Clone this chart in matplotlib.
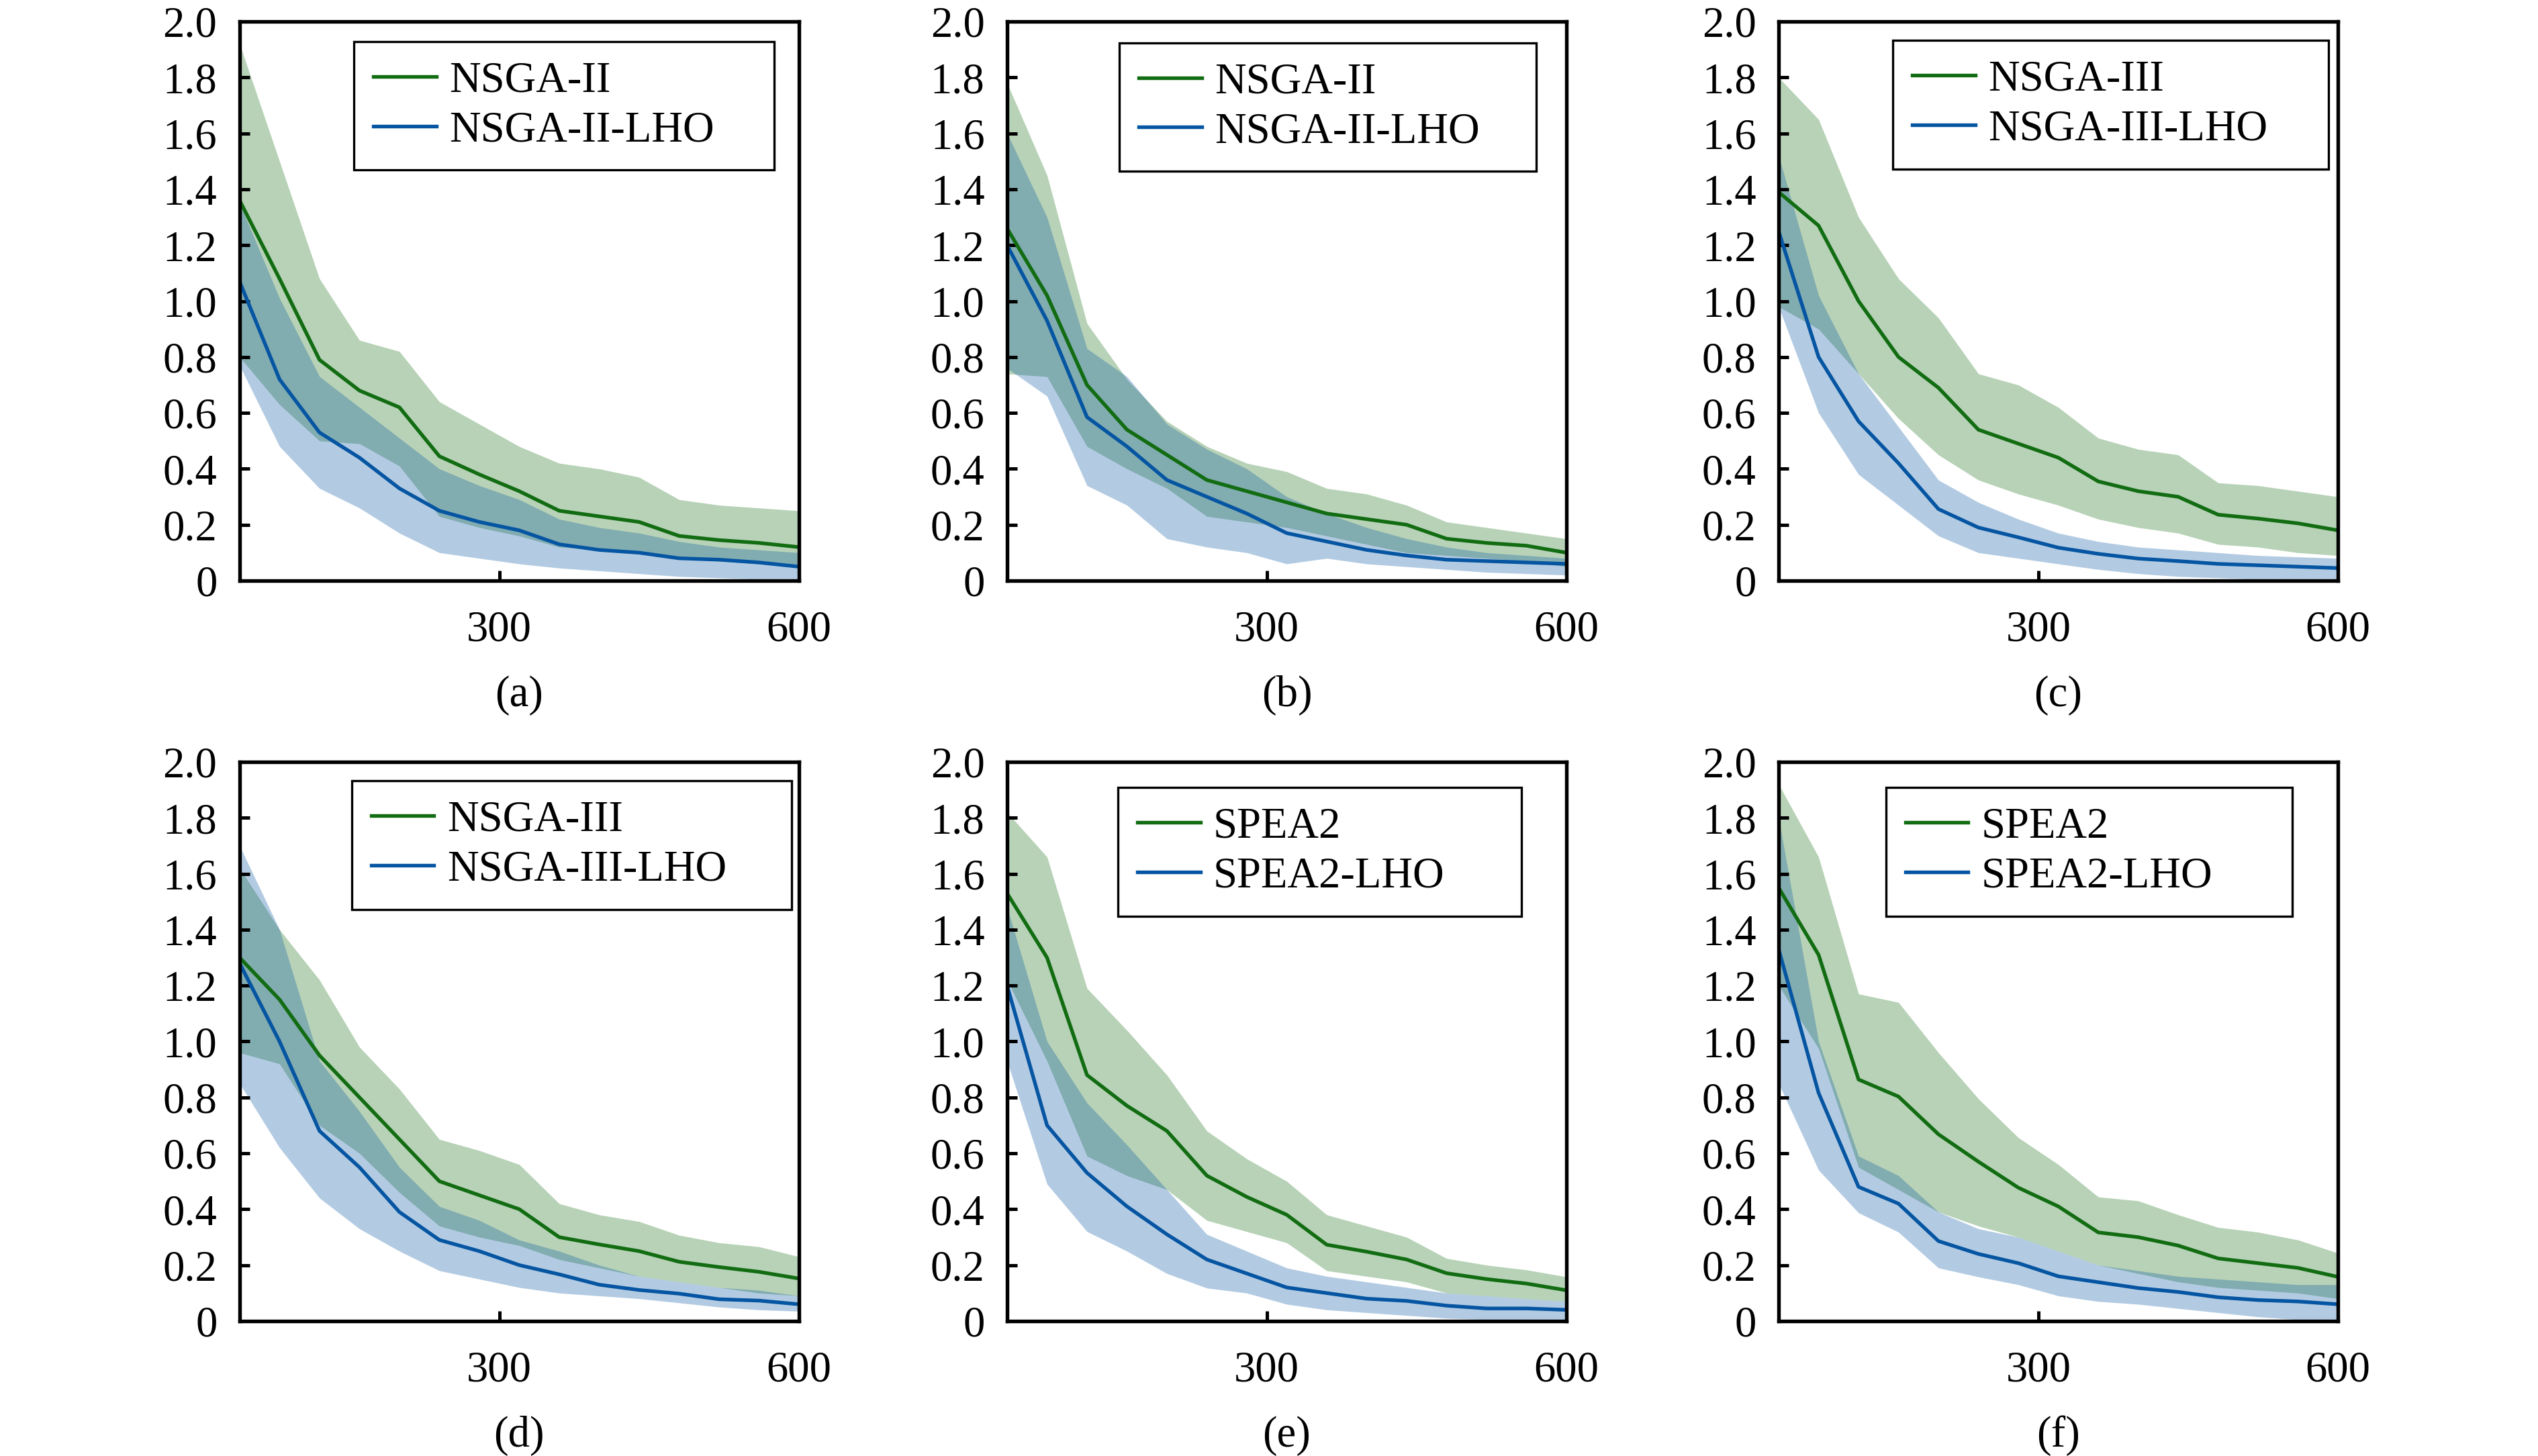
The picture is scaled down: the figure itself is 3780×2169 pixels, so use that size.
import numpy as np
import matplotlib
matplotlib.use('Agg')
import matplotlib.pyplot as plt

plt.rcParams['font.family'] = ['Liberation Serif', 'DejaVu Serif']
plt.rcParams['font.size'] = 15.5

# evaluations (x axis), shared by all panels
x = [40, 80, 120, 160, 200, 240, 280, 320, 360, 400, 440, 480, 520, 560, 600]

panel_tags = ['(a)', '(b)', '(c)', '(d)', '(e)', '(f)']
base_names = ['NSGA-II', 'NSGA-II', 'NSGA-III', 'NSGA-III', 'SPEA2', 'SPEA2']
lho_names = ['NSGA-II-LHO', 'NSGA-II-LHO', 'NSGA-III-LHO', 'NSGA-III-LHO', 'SPEA2-LHO', 'SPEA2-LHO']

# (a)
a_base = [1.36, 1.08, 0.79, 0.68, 0.62, 0.445, 0.38, 0.32, 0.25, 0.23, 0.21, 0.16, 0.145, 0.135, 0.12]
a_base_hi = [1.92, 1.50, 1.08, 0.86, 0.82, 0.64, 0.56, 0.48, 0.42, 0.40, 0.37, 0.29, 0.27, 0.26, 0.25]
a_base_lo = [0.80, 0.63, 0.50, 0.49, 0.41, 0.23, 0.19, 0.16, 0.12, 0.11, 0.10, 0.08, 0.07, 0.06, 0.05]
a_lho = [1.07, 0.72, 0.53, 0.44, 0.33, 0.25, 0.21, 0.18, 0.13, 0.11, 0.10, 0.08, 0.075, 0.065, 0.05]
a_lho_hi = [1.35, 1.01, 0.73, 0.62, 0.51, 0.40, 0.34, 0.29, 0.22, 0.19, 0.17, 0.14, 0.12, 0.11, 0.10]
a_lho_lo = [0.77, 0.48, 0.33, 0.26, 0.17, 0.10, 0.08, 0.06, 0.045, 0.035, 0.025, 0.015, 0.01, 0.005, 0.0]

# (b)
b_base = [1.26, 1.02, 0.70, 0.54, 0.45, 0.36, 0.32, 0.28, 0.24, 0.22, 0.20, 0.15, 0.135, 0.125, 0.10]
b_base_hi = [1.78, 1.45, 0.92, 0.72, 0.57, 0.48, 0.42, 0.39, 0.33, 0.31, 0.27, 0.21, 0.19, 0.17, 0.15]
b_base_lo = [0.74, 0.73, 0.48, 0.40, 0.33, 0.23, 0.21, 0.19, 0.16, 0.13, 0.10, 0.09, 0.08, 0.07, 0.05]
b_lho = [1.20, 0.93, 0.585, 0.48, 0.36, 0.30, 0.24, 0.17, 0.14, 0.11, 0.09, 0.075, 0.07, 0.065, 0.06]
b_lho_hi = [1.60, 1.30, 0.83, 0.73, 0.56, 0.47, 0.40, 0.30, 0.24, 0.19, 0.15, 0.12, 0.10, 0.09, 0.08]
b_lho_lo = [0.76, 0.66, 0.34, 0.27, 0.15, 0.12, 0.10, 0.06, 0.08, 0.06, 0.05, 0.04, 0.03, 0.025, 0.02]

# (c)
c_base = [1.39, 1.27, 1.00, 0.80, 0.69, 0.54, 0.49, 0.44, 0.355, 0.32, 0.30, 0.236, 0.222, 0.205, 0.18]
c_base_hi = [1.80, 1.65, 1.30, 1.08, 0.94, 0.74, 0.70, 0.62, 0.51, 0.47, 0.45, 0.35, 0.34, 0.32, 0.30]
c_base_lo = [0.98, 0.90, 0.74, 0.58, 0.45, 0.36, 0.31, 0.27, 0.22, 0.19, 0.17, 0.13, 0.12, 0.10, 0.09]
c_lho = [1.25, 0.80, 0.57, 0.42, 0.256, 0.19, 0.155, 0.118, 0.096, 0.079, 0.07, 0.06, 0.055, 0.05, 0.045]
c_lho_hi = [1.52, 1.02, 0.74, 0.55, 0.36, 0.28, 0.22, 0.17, 0.14, 0.12, 0.11, 0.10, 0.09, 0.085, 0.08]
c_lho_lo = [0.98, 0.60, 0.38, 0.27, 0.16, 0.10, 0.08, 0.06, 0.04, 0.025, 0.015, 0.01, 0.005, 0.0, 0.0]

# (d)
d_base = [1.30, 1.15, 0.95, 0.80, 0.65, 0.50, 0.45, 0.40, 0.30, 0.274, 0.25, 0.212, 0.193, 0.176, 0.152]
d_base_hi = [1.62, 1.40, 1.22, 0.98, 0.83, 0.65, 0.61, 0.56, 0.42, 0.38, 0.356, 0.307, 0.28, 0.266, 0.23]
d_base_lo = [0.96, 0.92, 0.70, 0.60, 0.46, 0.34, 0.30, 0.27, 0.22, 0.19, 0.16, 0.14, 0.12, 0.10, 0.09]
d_lho = [1.28, 1.00, 0.68, 0.55, 0.39, 0.29, 0.25, 0.20, 0.167, 0.13, 0.111, 0.098, 0.078, 0.073, 0.06]
d_lho_hi = [1.70, 1.40, 0.93, 0.75, 0.55, 0.41, 0.36, 0.29, 0.25, 0.20, 0.16, 0.14, 0.12, 0.11, 0.09]
d_lho_lo = [0.85, 0.62, 0.44, 0.33, 0.25, 0.18, 0.15, 0.12, 0.10, 0.09, 0.08, 0.065, 0.05, 0.04, 0.035]

# (e)
e_base = [1.53, 1.30, 0.88, 0.77, 0.68, 0.52, 0.444, 0.38, 0.273, 0.248, 0.22, 0.171, 0.15, 0.134, 0.11]
e_base_hi = [1.82, 1.66, 1.19, 1.04, 0.88, 0.68, 0.58, 0.50, 0.38, 0.34, 0.30, 0.224, 0.20, 0.183, 0.158]
e_base_lo = [1.22, 0.93, 0.59, 0.52, 0.47, 0.36, 0.32, 0.28, 0.18, 0.16, 0.14, 0.10, 0.09, 0.08, 0.07]
e_lho = [1.20, 0.70, 0.53, 0.41, 0.31, 0.22, 0.17, 0.12, 0.10, 0.08, 0.072, 0.055, 0.045, 0.045, 0.04]
e_lho_hi = [1.48, 1.00, 0.78, 0.63, 0.47, 0.31, 0.25, 0.19, 0.16, 0.14, 0.12, 0.10, 0.09, 0.08, 0.07]
e_lho_lo = [0.93, 0.49, 0.32, 0.25, 0.17, 0.118, 0.10, 0.06, 0.04, 0.03, 0.02, 0.01, 0.005, 0.0, 0.0]

# (f)
f_base = [1.55, 1.31, 0.864, 0.803, 0.668, 0.57, 0.477, 0.41, 0.317, 0.30, 0.27, 0.224, 0.207, 0.19, 0.158]
f_base_hi = [1.92, 1.66, 1.17, 1.14, 0.96, 0.795, 0.656, 0.56, 0.444, 0.43, 0.38, 0.335, 0.318, 0.29, 0.243]
f_base_lo = [1.20, 0.975, 0.55, 0.47, 0.39, 0.34, 0.30, 0.25, 0.20, 0.17, 0.14, 0.12, 0.11, 0.10, 0.08]
f_lho = [1.33, 0.816, 0.48, 0.42, 0.286, 0.24, 0.207, 0.16, 0.139, 0.118, 0.104, 0.085, 0.075, 0.07, 0.06]
f_lho_hi = [1.80, 1.00, 0.59, 0.52, 0.39, 0.33, 0.30, 0.25, 0.20, 0.18, 0.16, 0.15, 0.14, 0.13, 0.13]
f_lho_lo = [0.85, 0.54, 0.387, 0.318, 0.19, 0.158, 0.13, 0.09, 0.07, 0.06, 0.045, 0.03, 0.015, 0.005, 0.0]

base_series = [(a_base, a_base_lo, a_base_hi), (b_base, b_base_lo, b_base_hi),
               (c_base, c_base_lo, c_base_hi), (d_base, d_base_lo, d_base_hi),
               (e_base, e_base_lo, e_base_hi), (f_base, f_base_lo, f_base_hi)]
lho_series = [(a_lho, a_lho_lo, a_lho_hi), (b_lho, b_lho_lo, b_lho_hi),
              (c_lho, c_lho_lo, c_lho_hi), (d_lho, d_lho_lo, d_lho_hi),
              (e_lho, e_lho_lo, e_lho_hi), (f_lho, f_lho_lo, f_lho_hi)]

y_ticks = [0, 0.2, 0.4, 0.6, 0.8, 1.0, 1.2, 1.4, 1.6, 1.8, 2.0]
y_tick_labels = ['0', '0.2', '0.4', '0.6', '0.8', '1.0', '1.2', '1.4', '1.6', '1.8', '2.0']
x_ticks = [300, 600]

green = '#126c12'
blue = '#0555a2'

# legend box (left, top, right) in axes fraction, per panel
legend_boxes = [(0.2045, 0.964, 0.956), (0.2005, 0.962, 0.9455), (0.2045, 0.966, 0.983),
                (0.2003, 0.966, 0.987), (0.198, 0.954, 0.920), (0.1916, 0.954, 0.9185)]

fig = plt.figure(figsize=(12.6, 7.23), dpi=300)

lefts = [0.0944, 0.3968, 0.7008]
bottoms = [0.6012, 0.0927]
w, h = 0.2204, 0.384

for i in range(6):
    row, col = divmod(i, 3)
    ax = fig.add_axes([lefts[col], bottoms[row], w, h])

    m, lo, hi = base_series[i]
    ax.fill_between(x, lo, hi, color=green, alpha=0.3, linewidth=0)
    m2, lo2, hi2 = lho_series[i]
    ax.fill_between(x, lo2, hi2, color=blue, alpha=0.3, linewidth=0)
    ax.plot(x, m, color=green, linewidth=1.3, label=base_names[i])
    ax.plot(x, m2, color=blue, linewidth=1.3, label=lho_names[i])

    ax.set_xlim(40, 600)
    ax.set_ylim(0, 2.0)
    ax.set_xticks(x_ticks)
    ax.set_yticks(y_ticks)
    ax.set_yticklabels(y_tick_labels)
    ax.tick_params(direction='in', length=3.5, width=1.2, top=False, right=False)
    ax.tick_params(axis='x', pad=10.5)
    ax.tick_params(axis='y', pad=8)
    for sp in ax.spines.values():
        sp.set_linewidth(1.3)

    lx0, ly1, lx1 = legend_boxes[i]
    leg = ax.legend(loc='upper left', bbox_to_anchor=(lx0, ly1, lx1 - lx0, 0),
                    mode='expand', borderaxespad=0, fancybox=False, framealpha=1,
                    edgecolor='black', handlelength=1.45, handletextpad=0.3,
                    labelspacing=0.22, borderpad=0.45)
    leg.get_frame().set_linewidth(0.8)

    ax.text(0.5, -0.205, panel_tags[i], transform=ax.transAxes,
            ha='center', va='center')

fig.savefig('out.png', dpi=300)
